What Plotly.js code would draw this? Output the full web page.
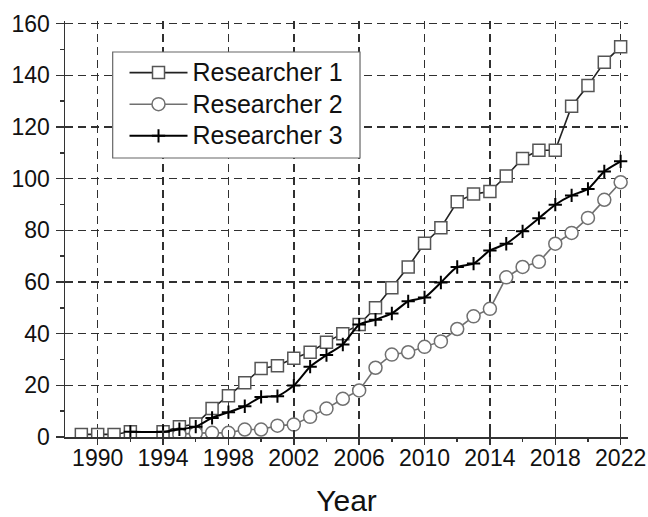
<!DOCTYPE html>
<html>
<head>
<meta charset="utf-8">
<script src="https://cdn.plot.ly/plotly-3.0.1.min.js"></script>
<style>html,body{margin:0;padding:0;background:#fff;}#chart{width:648px;height:517px;}</style>
</head>
<body>
<div id="chart"></div>
<script>
// Data
var years1 = [1989,1990,1991,1992,1994,1995,1996,1997,1998,1999,2000,2001,2002,2003,2004,2005,2006,2007,2008,2009,2010,2011,2012,2013,2014,2015,2016,2017,2018,2019,2020,2021,2022];
var researcher1 = [1,1,1,2,2,4,5,11,16,21,26.5,27.6,30.5,32.8,36.7,40,43.5,50,57.8,65.8,75,81,91,94,95,101,107.8,111,111,128,136,145,151];

var years2 = [1995,1996,1997,1998,1999,2000,2001,2002,2003,2004,2005,2006,2007,2008,2009,2010,2011,2012,2013,2014,2015,2016,2017,2018,2019,2020,2021,2022];
var researcher2 = [1,1.5,1.6,1.6,2.9,2.9,4.4,4.8,7.8,11,14.8,18,26.8,31.9,32.8,34.9,37,41.8,46.7,49.6,61.8,65.8,67.8,74.8,79,84.8,91.8,98.6];

var years3 = [1992,1994,1995,1996,1997,1998,1999,2000,2001,2002,2003,2004,2005,2006,2007,2008,2009,2010,2011,2012,2013,2014,2015,2016,2017,2018,2019,2020,2021,2022];
var researcher3 = [2,2,3,4,7.4,9.6,11.9,15.5,15.8,19.9,27.2,31.7,35.8,43.5,45.4,47.8,52.5,54,59.8,65.8,67.1,72.2,74.8,79.6,84.7,89.9,93.5,96,102.8,106.7];

var seriesNames = ['Researcher 1','Researcher 2','Researcher 3'];
var xTicks = [1990,1994,1998,2002,2006,2010,2014,2018,2022];
var xMinor = [1992,1996,2000,2004,2008,2012,2016,2020];
var yTicks = [0,20,40,60,80,100,120,140,160];
var yMinor = [10,30,50,70,90,110,130,150];

var FONT = 'Arial, "Liberation Sans", sans-serif';
function legendLabel(s) { return '<span style="font-size:25px">' + s + '</span>'; }

var traces = [
  {x: years1, y: researcher1, name: legendLabel(seriesNames[0]), type: 'scatter', mode: 'lines+markers',
   line: {color: '#222222', width: 1.6},
   marker: {symbol: 'square', size: 12, color: '#ffffff', line: {color: '#555555', width: 1.5}}},
  {x: years2, y: researcher2, name: legendLabel(seriesNames[1]), type: 'scatter', mode: 'lines+markers',
   line: {color: '#707070', width: 1.6},
   marker: {symbol: 'circle', size: 13, color: '#ffffff', line: {color: '#707070', width: 1.5}}},
  {x: years3, y: researcher3, name: legendLabel(seriesNames[2]), type: 'scatter', mode: 'lines+markers',
   line: {color: '#000000', width: 2, shape: 'spline', smoothing: 0.6},
   marker: {symbol: 'cross-thin', size: 9.5, color: '#000000', line: {color: '#000000', width: 2}}},
  {x: [], y: [], xaxis: 'x2', yaxis: 'y2', showlegend: false, hoverinfo: 'skip', type: 'scatter'}
];

var xr = [1988, 2022.45];
var yr = [0, 161];
var TC = '#333333';

var layout = {
  width: 648, height: 517,
  margin: {l: 65, r: 20, t: 21, b: 80},
  paper_bgcolor: '#ffffff', plot_bgcolor: '#ffffff',
  font: {family: FONT, color: '#111111'},
  showlegend: true,
  legend: {
    x: 0.1057, y: 0.926, xanchor: 'left', yanchor: 'top',
    bgcolor: 'rgba(0,0,0,0)', borderwidth: 0,
    font: {family: FONT, size: 22, color: '#111111'},
    itemwidth: 58, tracegroupgap: 0
  },
  shapes: [
    {type: 'rect', xref: 'paper', yref: 'paper', x0: 0.0847, x1: 0.524, y0: 0.6707, y1: 0.9255,
     fillcolor: '#ffffff', line: {color: '#666666', width: 1.2}, layer: 'above'}
  ],
  xaxis: {
    range: xr, tickmode: 'array', tickvals: xTicks, ticktext: xTicks.map(String),
    ticks: 'inside', ticklen: 7, tickwidth: 1.5, tickcolor: TC,
    showline: true, linecolor: TC, linewidth: 1.5,
    showgrid: true, gridcolor: '#303030', gridwidth: 1.5, griddash: '8px,5px',
    zeroline: false,
    tickfont: {family: FONT, size: 23, color: '#111111'},
    title: {text: 'Year', font: {family: FONT, size: 30, color: '#111111'}, standoff: 23}
  },
  yaxis: {
    range: yr, tickmode: 'array', tickvals: yTicks, ticktext: yTicks.map(String),
    ticks: 'outside', ticklen: 8, tickwidth: 1.5, tickcolor: TC, ticklabelstandoff: 1,
    minor: {tickmode: 'array', tickvals: yMinor, ticks: 'outside', ticklen: 4, tickwidth: 1.5, tickcolor: TC, showgrid: false},
    showline: true, linecolor: TC, linewidth: 1.5,
    showgrid: true, gridcolor: '#303030', gridwidth: 1.5, griddash: '8px,5px',
    zeroline: false,
    tickfont: {family: FONT, size: 23, color: '#111111'}
  },
  xaxis2: {
    overlaying: 'x', anchor: 'y2', side: 'bottom', range: xr,
    tickmode: 'array', tickvals: xTicks, ticks: 'outside', ticklen: 7, tickwidth: 1.5, tickcolor: TC,
    minor: {tickmode: 'array', tickvals: xMinor, ticks: 'outside', ticklen: 4, tickwidth: 1.5, tickcolor: TC, showgrid: false},
    showticklabels: false, showgrid: false, showline: false, zeroline: false
  },
  yaxis2: {
    overlaying: 'y', anchor: 'x2', side: 'left', range: yr,
    tickmode: 'array', tickvals: yTicks, ticks: 'inside', ticklen: 5, tickwidth: 1.5, tickcolor: TC,
    showticklabels: false, showgrid: false, showline: false, zeroline: false
  }
};

Plotly.newPlot('chart', traces, layout, {displayModeBar: false, staticPlot: true});
</script>
</body>
</html>
